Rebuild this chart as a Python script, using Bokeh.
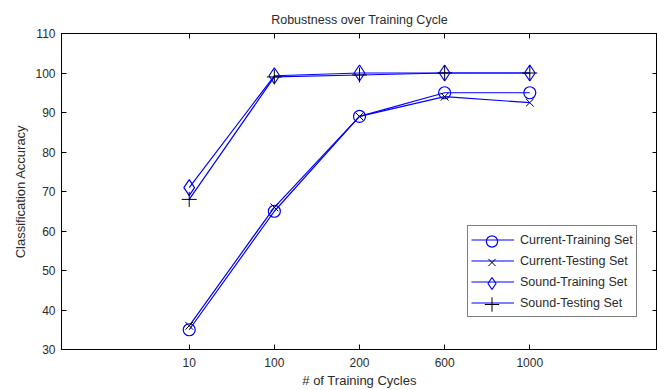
from bokeh.plotting import figure
from bokeh.models import FactorRange, Range1d, CategoricalAxis, LinearAxis, Legend, LegendItem, FixedTicker
from bokeh.embed import file_html
from bokeh.resources import INLINE

cycles = ["10", "100", "200", "600", "1000"]
current_training = [35, 65, 89, 95, 95]
current_testing = [36, 66, 89, 94, 92.5]
sound_training = [71, 99.3, 100, 100, 100]
sound_testing = [68, 99, 99.5, 100, 100]
y_ticks = [30, 40, 50, 60, 70, 80, 90, 100, 110]
series_labels = ["Current-Training Set", "Current-Testing Set", "Sound-Training Set", "Sound-Testing Set"]

FONT = "Liberation Sans"
TXT = "#2b2b2b"

p = figure(width=657, height=390, output_backend="svg", toolbar_location=None,
           x_range=FactorRange(factors=cycles, range_padding=1, range_padding_units="absolute"),
           y_range=Range1d(30, 110),
           min_border_left=61, min_border_right=0, min_border_top=33, min_border_bottom=40)
p.outline_line_color = "black"
p.outline_line_width = 1
p.grid.visible = False
p.background_fill_color = "white"
p.border_fill_color = "white"

p.title.text = "Robustness over Training Cycle"
p.title.align = "center"
p.title.text_font = FONT
p.title.text_font_size = "12.5px"
p.title.text_font_style = "normal"
p.title.text_color = TXT
p.title.standoff = 14

def style_axis(ax, labels=True):
    ax.major_tick_in = 5
    ax.major_tick_out = 0
    ax.minor_tick_in = 0
    ax.minor_tick_out = 0
    ax.axis_line_color = "black"
    ax.major_tick_line_color = "black"
    ax.major_label_text_font = FONT
    ax.major_label_text_font_size = "12px"
    ax.major_label_text_color = TXT
    ax.axis_label_text_font = FONT
    ax.axis_label_text_font_size = "13px"
    ax.axis_label_text_font_style = "normal"
    ax.axis_label_text_color = TXT
    if not labels:
        ax.major_label_text_font_size = "0px"
        ax.major_label_text_alpha = 0

p.yaxis.ticker = FixedTicker(ticks=y_ticks)
style_axis(p.xaxis[0])
style_axis(p.yaxis[0])
p.xaxis.axis_label = "# of Training Cycles"
p.yaxis.axis_label = "Classification Accuracy"
p.xaxis.major_label_standoff = 8
p.xaxis.axis_label_standoff = 3
p.yaxis.major_label_standoff = 6
p.yaxis.axis_label_standoff = 4

top = CategoricalAxis()
style_axis(top, labels=False)
top.major_label_standoff = 0
p.add_layout(top, "above")
right = LinearAxis(ticker=FixedTicker(ticks=y_ticks))
style_axis(right, labels=False)
right.major_label_standoff = 0
p.add_layout(right, "right")

BLUE = "#0000ff"
lines = []
markers = []
for vals in [current_training, current_testing, sound_training, sound_testing]:
    lines.append(p.line(cycles, vals, line_color=BLUE, line_width=1.2))
markers.append(p.scatter(cycles, current_training, marker="circle", size=12, fill_color=None, line_color=BLUE, line_width=1.2))
markers.append(p.scatter(cycles, current_testing, marker="x", size=11, line_color="black", line_width=1))
markers.append(p.scatter(cycles, sound_training, marker="diamond", size=16, fill_color=None, line_color=BLUE, line_width=1.2))
markers.append(p.scatter(cycles, sound_testing, marker="cross", size=15, line_color="black", line_width=1))

LX, LY, PAD, ROW, GW = 406, 32, 3, 21, 43
legend = Legend(items=[LegendItem(label=lab, renderers=[ln]) for lab, ln in zip(series_labels, lines)],
                location=(LX, LY))
legend.margin = 0
legend.border_line_color = "black"
legend.border_line_width = 1
legend.label_text_font = FONT
legend.label_text_font_size = "12.5px"
legend.label_text_color = TXT
legend.glyph_width = GW
legend.glyph_height = ROW
legend.label_height = ROW
legend.spacing = 0
legend.padding = PAD
legend.label_standoff = 6
p.add_layout(legend)

total_h = 2 * PAD + 4 * ROW
marker_boxes = [28, 26, 30, 36]
for i, (mk, gh) in enumerate(zip(markers, marker_boxes)):
    center = LY + total_h - PAD - ROW / 2 - ROW * i
    ml = Legend(items=[LegendItem(label=" ", renderers=[mk])], location=(LX + PAD, center - gh / 2))
    ml.margin = 0
    ml.padding = 0
    ml.spacing = 0
    ml.border_line_alpha = 0
    ml.background_fill_alpha = 0
    ml.glyph_width = GW
    ml.glyph_height = gh
    ml.label_height = gh
    ml.label_width = 1
    ml.label_standoff = 0
    ml.label_text_font_size = "1px"
    p.add_layout(ml)

open("out.html", "w").write(file_html(p, INLINE))
